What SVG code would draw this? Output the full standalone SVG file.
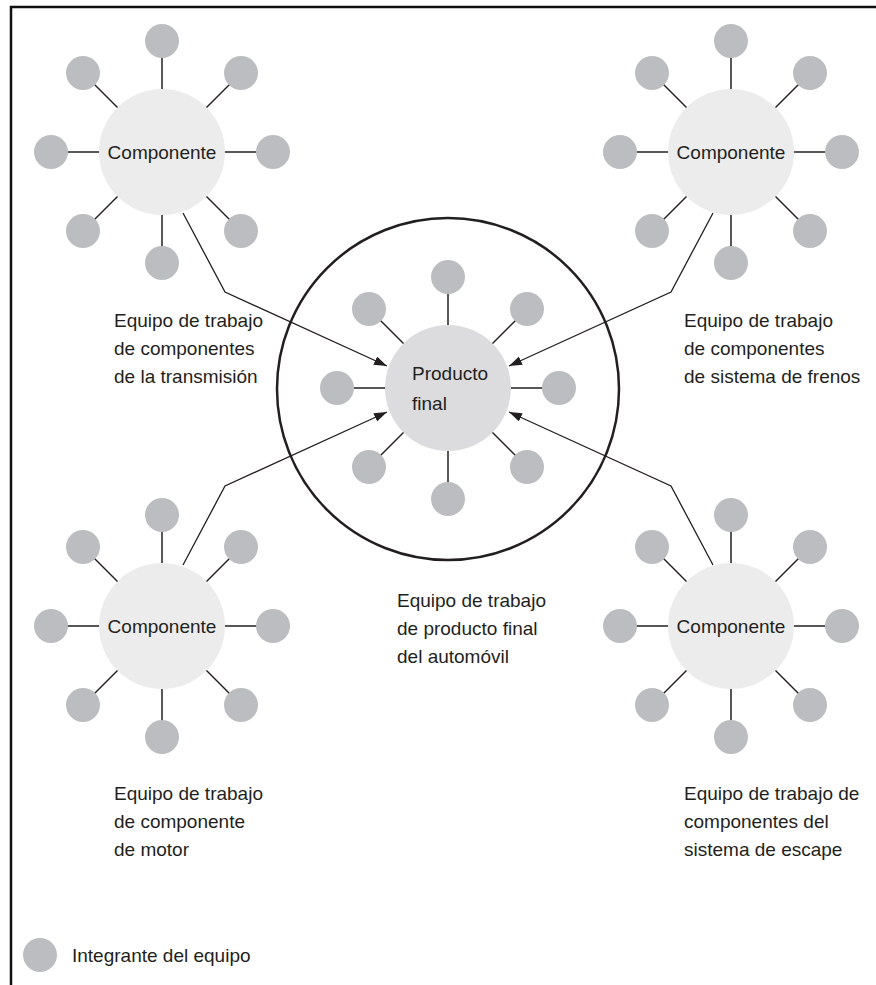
<svg xmlns="http://www.w3.org/2000/svg" xmlns:xlink="http://www.w3.org/1999/xlink" width="876" height="985" viewBox="0 0 876 985">
<style>
text{font-family:"Liberation Sans",Arial,sans-serif;font-size:19px;fill:#231f20}
.member{fill:#bcbdc0}
.spoke{stroke:#231f20;stroke-width:1.5}
.comp{fill:#ececec}
.prod{fill:#dcdcde}
.conn{fill:none;stroke:#231f20;stroke-width:1.3}
.frame{fill:none;stroke:#111;stroke-width:2.5}
</style>
<defs>
<marker id="arr" markerUnits="userSpaceOnUse" markerWidth="14" markerHeight="10" refX="13" refY="4.5" orient="auto">
<path d="M0,0 L13,4.5 L0,9 z" fill="#231f20"/>
</marker>
<g id="spokes">
<g class="spoke">
<line x1="0" y1="0" x2="0" y2="-111"/><line x1="0" y1="0" x2="79" y2="-79"/>
<line x1="0" y1="0" x2="111" y2="0"/><line x1="0" y1="0" x2="79" y2="79"/>
<line x1="0" y1="0" x2="0" y2="111"/><line x1="0" y1="0" x2="-79" y2="79"/>
<line x1="0" y1="0" x2="-111" y2="0"/><line x1="0" y1="0" x2="-79" y2="-79"/>
</g>
<g class="member">
<circle cx="0" cy="-111" r="17"/><circle cx="79" cy="-79" r="17"/>
<circle cx="111" cy="0" r="17"/><circle cx="79" cy="79" r="17"/>
<circle cx="0" cy="111" r="17"/><circle cx="-79" cy="79" r="17"/>
<circle cx="-111" cy="0" r="17"/><circle cx="-79" cy="-79" r="17"/>
</g>
</g>
</defs>
<rect width="876" height="985" fill="#fff"/>
<path class="frame" d="M11,985 V7 H876"/>

<g id="team-final">
<circle cx="448" cy="389" r="171" fill="none" stroke="#231f20" stroke-width="2.5"/>
</g>

<g id="node-tl">
<use xlink:href="#spokes" href="#spokes" transform="translate(162,152)"/>
<circle class="comp" cx="162" cy="152" r="63"/>
<text x="162" y="159" text-anchor="middle">Componente</text>
</g>
<g id="node-tr">
<use xlink:href="#spokes" href="#spokes" transform="translate(731,152)"/>
<circle class="comp" cx="731" cy="152" r="63"/>
<text x="731" y="159" text-anchor="middle">Componente</text>
</g>
<g id="node-bl">
<use xlink:href="#spokes" href="#spokes" transform="translate(162,626)"/>
<circle class="comp" cx="162" cy="626" r="63"/>
<text x="162" y="633" text-anchor="middle">Componente</text>
</g>
<g id="node-br">
<use xlink:href="#spokes" href="#spokes" transform="translate(731,626)"/>
<circle class="comp" cx="731" cy="626" r="63"/>
<text x="731" y="633" text-anchor="middle">Componente</text>
</g>
<g id="node-final">
<use xlink:href="#spokes" href="#spokes" transform="translate(448,388)"/>
<circle class="prod" cx="448" cy="388" r="63"/>
<text x="412" y="380">Producto</text>
<text x="412" y="410">final</text>
</g>

<g id="connectors">
<path class="conn" d="M183,213 L225,292 L387,366" marker-end="url(#arr)"/>
<path class="conn" d="M713,213 L671,292 L509,366" marker-end="url(#arr)"/>
<path class="conn" d="M183,565 L225,486 L387,412" marker-end="url(#arr)"/>
<path class="conn" d="M713,565 L671,486 L509,412" marker-end="url(#arr)"/>
</g>

<g id="labels">
<text x="114" y="327">Equipo de trabajo</text>
<text x="114" y="355">de componentes</text>
<text x="114" y="383">de la transmisión</text>
<text x="684" y="327">Equipo de trabajo</text>
<text x="684" y="355">de componentes</text>
<text x="684" y="383">de sistema de frenos</text>
<text x="397" y="607">Equipo de trabajo</text>
<text x="397" y="635">de producto final</text>
<text x="397" y="663">del automóvil</text>
<text x="114" y="800">Equipo de trabajo</text>
<text x="114" y="828">de componente</text>
<text x="114" y="856">de motor</text>
<text x="684" y="800">Equipo de trabajo de</text>
<text x="684" y="828">componentes del</text>
<text x="684" y="856">sistema de escape</text>
</g>

<g id="legend">
<circle class="member" cx="40" cy="955" r="17"/>
<text x="72" y="962">Integrante del equipo</text>
</g>
</svg>
